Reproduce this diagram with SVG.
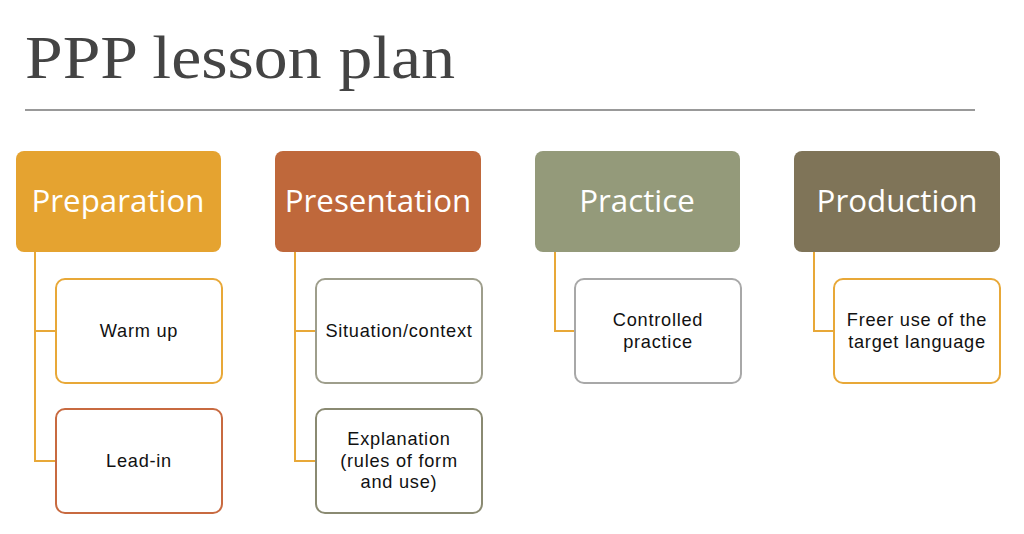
<svg xmlns="http://www.w3.org/2000/svg" width="1024" height="534" viewBox="0 0 1024 534">
<style>
.hdr{font-family:"Open Sans","Liberation Sans",sans-serif;font-size:31.3px;fill:#fff;text-anchor:middle}
.lbl{font-family:"Liberation Sans",Arial,sans-serif;font-size:18.2px;letter-spacing:0.75px;fill:#111;text-anchor:middle}
.child{fill:#fff;stroke-width:2}
.conn{fill:none;stroke:#E8A838;stroke-width:2}
</style>
<rect width="1024" height="534" fill="#fff"/>
<text x="25" y="78" font-family="Liberation Serif,serif" font-size="62" fill="#444" textLength="430" lengthAdjust="spacingAndGlyphs">PPP lesson plan</text>
<line x1="25" y1="110" x2="975" y2="110" stroke="#777" stroke-width="1.5"/>
<g id="connectors">
<path class="conn" d="M35 252V461H56M35 331H56"/>
<path class="conn" d="M295 252V461H315M295 331H315"/>
<path class="conn" d="M555 252V331H575"/>
<path class="conn" d="M814 252V331H834"/>
</g>
<g id="preparation"><rect x="16" y="151" width="205" height="101" rx="8" fill="#E5A330"/><text class="hdr" x="118" y="212">Preparation</text></g>
<g id="presentation"><rect x="275" y="151" width="206" height="101" rx="8" fill="#BF683B"/><text class="hdr" x="378" y="212">Presentation</text></g>
<g id="practice"><rect x="535" y="151" width="205" height="101" rx="8" fill="#949A7A"/><text class="hdr" x="637" y="212">Practice</text></g>
<g id="production"><rect x="794" y="151" width="206" height="101" rx="8" fill="#7F7458"/><text class="hdr" x="897" y="212">Production</text></g>
<g id="warmup"><rect class="child" x="56" y="279" width="166" height="104" rx="9" stroke="#E8A838"/><text class="lbl" x="139" y="337">Warm up</text></g>
<g id="leadin"><rect class="child" x="56" y="409" width="166" height="104" rx="9" stroke="#C86A40"/><text class="lbl" x="139" y="467">Lead-in</text></g>
<g id="situation"><rect class="child" x="316" y="279" width="166" height="104" rx="9" stroke="#9E9E8C"/><text class="lbl" x="399" y="337">Situation/context</text></g>
<g id="explanation"><rect class="child" x="316" y="409" width="166" height="104" rx="9" stroke="#8A8A72"/><text class="lbl" x="399" y="445">Explanation</text><text class="lbl" x="399" y="466.5">(rules of form</text><text class="lbl" x="399" y="488">and use)</text></g>
<g id="controlled"><rect class="child" x="575" y="279" width="166" height="104" rx="9" stroke="#A8A8A8"/><text class="lbl" x="658" y="326">Controlled</text><text class="lbl" x="658" y="347.5">practice</text></g>
<g id="freer"><rect class="child" x="834" y="279" width="166" height="104" rx="9" stroke="#E8A838"/><text class="lbl" x="917" y="326">Freer use of the</text><text class="lbl" x="917" y="347.5">target language</text></g>
</svg>
